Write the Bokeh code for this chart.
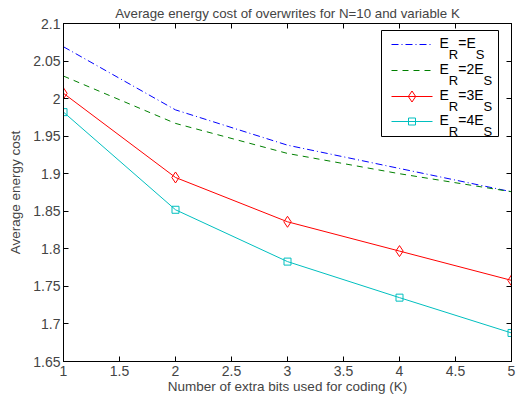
from bokeh.plotting import figure
from bokeh.models import LinearAxis, FixedTicker, Range1d
from bokeh.embed import file_html
from bokeh.resources import INLINE
from bokeh.core.properties import value

# ---- data ----
K = [1, 2, 3, 4, 5]
cost_r1 = [2.069, 1.985, 1.938, 1.907, 1.876]   # E_R = E_S
cost_r2 = [2.030, 1.967, 1.927, 1.900, 1.876]   # E_R = 2E_S
cost_r3 = [2.007, 1.895, 1.836, 1.797, 1.758]   # E_R = 3E_S
cost_r4 = [1.982, 1.852, 1.783, 1.735, 1.688]   # E_R = 4E_S

ratios = ["", "2", "3", "4"]

x_ticks = [1, 1.5, 2, 2.5, 3, 3.5, 4, 4.5, 5]
x_tick_labels = ["1", "1.5", "2", "2.5", "3", "3.5", "4", "4.5", "5"]
y_ticks = [1.65, 1.7, 1.75, 1.8, 1.85, 1.9, 1.95, 2.0, 2.05, 2.1]
y_tick_labels = ["1.65", "1.7", "1.75", "1.8", "1.85", "1.9", "1.95", "2", "2.05", "2.1"]

title = "Average energy cost of overwrites for N=10 and variable K"
x_label = "Number of extra bits used for coding (K)"
y_label = "Average energy cost"

FONT = "Liberation Sans"
X0, X1 = 1, 5
Y0, Y1 = 1.65, 2.1
W, H = 524, 402
FL, FR, FT, FB = 63, 511, 23, 361   # frame edges in pixels

p = figure(width=W, height=H, x_range=Range1d(X0, X1), y_range=Range1d(Y0, Y1),
           output_backend="svg", toolbar_location=None, title=title,
           min_border_left=FL, min_border_right=W - FR, min_border_top=FT, min_border_bottom=H - FB,
           x_axis_label=x_label, y_axis_label=y_label)
p.background_fill_color = "white"
p.border_fill_color = "white"
p.outline_line_color = "black"
p.grid.visible = False

p.title.align = "center"
p.title.text_font = FONT
p.title.text_font_size = "13.3px"
p.title.text_font_style = "normal"
p.title.standoff = 5

for ax, ticks, labels in ((p.xaxis[0], x_ticks, x_tick_labels), (p.yaxis[0], y_ticks, y_tick_labels)):
    ax.ticker = FixedTicker(ticks=ticks)
    ax.major_label_overrides = {t: l for t, l in zip(ticks, labels)}
    ax.major_tick_in = 5
    ax.major_tick_out = 0
    ax.minor_tick_line_color = None
    ax.major_label_text_font = FONT
    ax.major_label_text_font_size = "14px"
    ax.axis_label_text_font = FONT
    ax.axis_label_text_font_size = "13.5px"
    ax.axis_label_text_font_style = "normal"
    ax.axis_line_color = "black"
    ax.major_tick_line_color = "black"

p.xaxis[0].major_label_standoff = 4
p.xaxis[0].axis_label_standoff = 0
p.yaxis[0].major_label_standoff = 3
p.yaxis[0].axis_label_standoff = 7

for loc, ticks in (("above", x_ticks), ("right", y_ticks)):
    ax = LinearAxis(ticker=FixedTicker(ticks=ticks), major_label_text_font_size="1px",
                    major_label_text_color=None, major_label_standoff=0,
                    major_tick_in=5, major_tick_out=0,
                    minor_tick_line_color=None, axis_line_color="black")
    p.add_layout(ax, loc)

# ---- series ----
blue, green, red, cyan = "#0000ff", "#008000", "#ff0000", "#00bfbf"
p.line(K, cost_r1, line_color=blue, line_width=1, line_dash="7 3 1 3")
p.line(K, cost_r2, line_color=green, line_width=1, line_dash="6 5")
p.line(K, cost_r3, line_color=red, line_width=1)
p.scatter(K, cost_r3, marker="diamond", size=11, line_color=red, fill_color=None, line_width=1)
p.line(K, cost_r4, line_color=cyan, line_width=1)
p.scatter(K, cost_r4, marker="square", size=7, line_color=cyan, fill_color=None, line_width=1)

# ---- legend (drawn manually to allow subscripts) ----
def dx(px):
    return X0 + (px - FL) * (X1 - X0) / (FR - FL)
def dy(py):
    return Y0 + (FB - py) * (Y1 - Y0) / (FB - FT)

p.quad(left=[dx(381)], right=[dx(498)], top=[dy(30)], bottom=[dy(136)],
       fill_color="white", line_color="black", line_width=1)

row_py = [44, 70, 96, 121]
styles = [(blue, "7 3 1 3", None), (green, "6 5", None), (red, "solid", "diamond"), (cyan, "solid", "square")]
adv = {"E": 0.667, "R": 0.722, "S": 0.667, "=": 0.584, "2": 0.556, "3": 0.556, "4": 0.556}
MAIN, SUB = 14, 13
tx, ty, tt, tox, toy, tsz = [], [], [], [], [], []
for (col, dash, mk), py, r in zip(styles, row_py, ratios):
    p.line([dx(391), dx(432)], [dy(py), dy(py)], line_color=col, line_width=1, line_dash=dash)
    if mk == "diamond":
        p.scatter([dx(411.5)], [dy(py)], marker="diamond", size=11, line_color=col, fill_color=None)
    elif mk == "square":
        p.scatter([dx(411.5)], [dy(py)], marker="square", size=7, line_color=col, fill_color=None)
    pieces = [("E", MAIN, -2), ("R", SUB, 10), ("=" + r + "E", MAIN, -2), ("S", SUB, 10)]
    off = 0.0
    for s, sz, yo in pieces:
        tx.append(dx(439)); ty.append(dy(py)); tt.append(s)
        tox.append(off); toy.append(yo); tsz.append(f"{sz}px")
        off += sum(adv[c] for c in s) * sz
p.text(x=tx, y=ty, text=tt, x_offset=tox, y_offset=toy, text_font_size=tsz,
       text_font=value(FONT), text_baseline="middle", text_align="left", text_color="black")

open("out.html", "w").write(file_html(p, INLINE))
